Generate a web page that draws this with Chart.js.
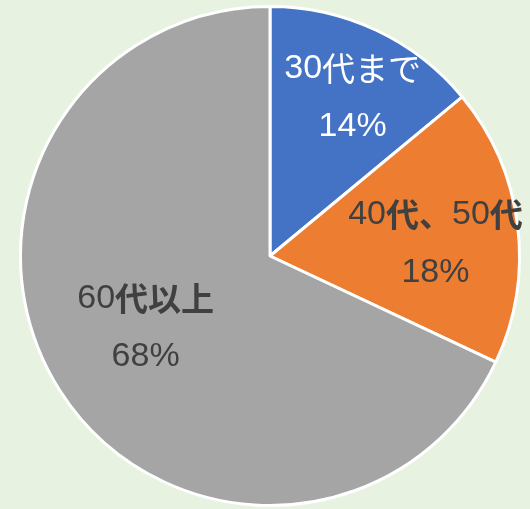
<!DOCTYPE html>
<html>
<head>
<meta charset="utf-8">
<script src="https://cdn.jsdelivr.net/npm/chart.js@4"></script>
<style>
  body { margin: 0; background: #E8F2E1; }
  #wrap { width: 530px; height: 509px; }
</style>
</head>
<body>
<div id="wrap"><canvas id="pie" width="530" height="509"></canvas></div>
<script>
// data
var categories = ['30代まで', '40代、50代', '60代以上'];
var shares = [14, 18, 68];
var sliceColors = ['#4472C4', '#ED7D31', '#A5A5A5'];
var labelColors = ['#FFFFFF', '#404040', '#404040'];
var labelBold = [false, true, true];

// where each label block sits: fraction of radius and angle nudge (deg)
var labelPlace = [
  { r: 0.715, da: 2.4 },
  { r: 0.665, da: 3.0 },
  { r: 0.575, da: 2.5 }
];

var latinFont = '34px "Liberation Sans", Arial, sans-serif';

// digits in a latin face, kana/kanji in the CJK face, centred on x
function mixedText(ctx, str, x, y, bold) {
  var cjkFont = (bold ? 'bold ' : '') + '33px "Noto Sans CJK JP", sans-serif';
  var runs = str.match(/[0-9%]+|[^0-9%]+/g);
  var widths = runs.map(function(s) {
    ctx.font = /[0-9%]/.test(s) ? latinFont : cjkFont;
    return ctx.measureText(s).width;
  });
  var total = widths.reduce(function(a, b) { return a + b; }, 0);
  var cx = x - total / 2;
  runs.forEach(function(s, k) {
    ctx.font = /[0-9%]/.test(s) ? latinFont : cjkFont;
    ctx.fillText(s, cx, y);
    cx += widths[k];
  });
}

var sliceLabels = {
  id: 'sliceLabels',
  afterDatasetsDraw: function(chart) {
    var ctx = chart.ctx;
    var meta = chart.getDatasetMeta(0);
    var total = shares.reduce(function(a, b) { return a + b; }, 0);
    ctx.save();
    ctx.textAlign = 'left';
    ctx.textBaseline = 'middle';
    meta.data.forEach(function(arc, i) {
      var p = arc.getProps(['x', 'y', 'startAngle', 'endAngle', 'outerRadius'], true);
      var mid = (p.startAngle + p.endAngle) / 2 + labelPlace[i].da * Math.PI / 180;
      var r = p.outerRadius * labelPlace[i].r;
      var x = p.x + Math.cos(mid) * r;
      var y = p.y + Math.sin(mid) * r;
      ctx.fillStyle = labelColors[i];
      mixedText(ctx, categories[i], x, y - 29, labelBold[i]);
      mixedText(ctx, Math.round(shares[i] / total * 100) + '%', x, y + 29, labelBold[i]);
    });
    ctx.restore();
  }
};

var chart = new Chart(document.getElementById('pie'), {
  type: 'pie',
  data: {
    labels: categories,
    datasets: [{
      data: shares,
      backgroundColor: sliceColors,
      borderColor: '#FFFFFF',
      borderWidth: 3
    }]
  },
  options: {
    responsive: false,
    animation: false,
    layout: { padding: { left: 19, right: 9, top: 5, bottom: 2 } },
    plugins: {
      legend: { display: false },
      tooltip: { enabled: false }
    }
  },
  plugins: [sliceLabels]
});
</script>
</body>
</html>
